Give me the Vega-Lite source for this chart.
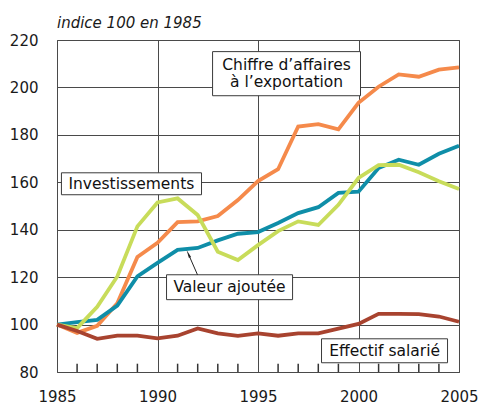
{
  "$schema": "https://vega.github.io/schema/vega-lite/v6.json",
  "width": 402,
  "height": 332,
  "autosize": "none",
  "padding": {"left": 57, "top": 40, "right": 23, "bottom": 32},
  "background": "white",
  "config": {
    "view": {"stroke": "#4a4a4a", "strokeWidth": 1},
    "font": "DejaVu Sans",
    "axis": {"labelFont": "DejaVu Sans", "labelFontSize": 15, "labelColor": "#1a1a1a"}
  },
  "title": {
    "text": "indice 100 en 1985",
    "anchor": "start",
    "frame": "group",
    "orient": "top",
    "offset": 2,
    "fontSize": 15,
    "fontStyle": "italic",
    "fontWeight": "normal",
    "font": "DejaVu Sans",
    "color": "#1a1a1a"
  },
  "datasets": {
    "series": [
      {"year": 1985, "serie": "export", "v": 100}, {"year": 1986, "serie": "export", "v": 96.5}, {"year": 1987, "serie": "export", "v": 99.5}, {"year": 1988, "serie": "export", "v": 109}, {"year": 1989, "serie": "export", "v": 128.5}, {"year": 1990, "serie": "export", "v": 134.5}, {"year": 1991, "serie": "export", "v": 143.2}, {"year": 1992, "serie": "export", "v": 143.5}, {"year": 1993, "serie": "export", "v": 145.8}, {"year": 1994, "serie": "export", "v": 152.5}, {"year": 1995, "serie": "export", "v": 160.5}, {"year": 1996, "serie": "export", "v": 165.5}, {"year": 1997, "serie": "export", "v": 183.5}, {"year": 1998, "serie": "export", "v": 184.5}, {"year": 1999, "serie": "export", "v": 182.3}, {"year": 2000, "serie": "export", "v": 193.5}, {"year": 2001, "serie": "export", "v": 200.3}, {"year": 2002, "serie": "export", "v": 205.5}, {"year": 2003, "serie": "export", "v": 204.5}, {"year": 2004, "serie": "export", "v": 207.5}, {"year": 2005, "serie": "export", "v": 208.5},
      {"year": 1985, "serie": "va", "v": 100}, {"year": 1986, "serie": "va", "v": 101}, {"year": 1987, "serie": "va", "v": 102}, {"year": 1988, "serie": "va", "v": 108}, {"year": 1989, "serie": "va", "v": 120.3}, {"year": 1990, "serie": "va", "v": 126}, {"year": 1991, "serie": "va", "v": 131.5}, {"year": 1992, "serie": "va", "v": 132.3}, {"year": 1993, "serie": "va", "v": 135.5}, {"year": 1994, "serie": "va", "v": 138.3}, {"year": 1995, "serie": "va", "v": 139}, {"year": 1996, "serie": "va", "v": 142.8}, {"year": 1997, "serie": "va", "v": 147}, {"year": 1998, "serie": "va", "v": 149.5}, {"year": 1999, "serie": "va", "v": 155.5}, {"year": 2000, "serie": "va", "v": 156}, {"year": 2001, "serie": "va", "v": 166}, {"year": 2002, "serie": "va", "v": 169.5}, {"year": 2003, "serie": "va", "v": 167.4}, {"year": 2004, "serie": "va", "v": 172}, {"year": 2005, "serie": "va", "v": 175.4},
      {"year": 1985, "serie": "invest", "v": 100}, {"year": 1986, "serie": "invest", "v": 98.5}, {"year": 1987, "serie": "invest", "v": 107.5}, {"year": 1988, "serie": "invest", "v": 120.3}, {"year": 1989, "serie": "invest", "v": 141.4}, {"year": 1990, "serie": "invest", "v": 151.5}, {"year": 1991, "serie": "invest", "v": 153.2}, {"year": 1992, "serie": "invest", "v": 146.2}, {"year": 1993, "serie": "invest", "v": 130.7}, {"year": 1994, "serie": "invest", "v": 127.2}, {"year": 1995, "serie": "invest", "v": 133.5}, {"year": 1996, "serie": "invest", "v": 139.4}, {"year": 1997, "serie": "invest", "v": 143.5}, {"year": 1998, "serie": "invest", "v": 142}, {"year": 1999, "serie": "invest", "v": 150.5}, {"year": 2000, "serie": "invest", "v": 161.8}, {"year": 2001, "serie": "invest", "v": 167.2}, {"year": 2002, "serie": "invest", "v": 167.4}, {"year": 2003, "serie": "invest", "v": 164.2}, {"year": 2004, "serie": "invest", "v": 160.4}, {"year": 2005, "serie": "invest", "v": 157.2},
      {"year": 1985, "serie": "effectif", "v": 100}, {"year": 1986, "serie": "effectif", "v": 97.3}, {"year": 1987, "serie": "effectif", "v": 94}, {"year": 1988, "serie": "effectif", "v": 95.3}, {"year": 1989, "serie": "effectif", "v": 95.3}, {"year": 1990, "serie": "effectif", "v": 94.2}, {"year": 1991, "serie": "effectif", "v": 95.3}, {"year": 1992, "serie": "effectif", "v": 98.4}, {"year": 1993, "serie": "effectif", "v": 96.3}, {"year": 1994, "serie": "effectif", "v": 95.2}, {"year": 1995, "serie": "effectif", "v": 96.3}, {"year": 1996, "serie": "effectif", "v": 95.3}, {"year": 1997, "serie": "effectif", "v": 96.3}, {"year": 1998, "serie": "effectif", "v": 96.3}, {"year": 1999, "serie": "effectif", "v": 98.3}, {"year": 2000, "serie": "effectif", "v": 100.3}, {"year": 2001, "serie": "effectif", "v": 104.5}, {"year": 2002, "serie": "effectif", "v": 104.5}, {"year": 2003, "serie": "effectif", "v": 104.4}, {"year": 2004, "serie": "effectif", "v": 103.4}, {"year": 2005, "serie": "effectif", "v": 101.2}
    ],
    "boxes": [
      {"id": "export", "x1": 1992.74, "x2": 2000.1, "y1": 196.5, "y2": 215.1},
      {"id": "invest", "x1": 1985.22, "x2": 1992.19, "y1": 154.75, "y2": 164.0},
      {"id": "va", "x1": 1990.45, "x2": 1996.72, "y1": 110.5, "y2": 121.0},
      {"id": "effectif", "x1": 1998.16, "x2": 2004.43, "y1": 83.9, "y2": 94.0}
    ],
    "labels": [
      {"t": "Chiffre d’affaires", "x": 1996.42, "y": 209.3},
      {"t": "à l’exportation", "x": 1996.42, "y": 202.2},
      {"t": "Investissements", "x": 1988.7, "y": 159.4},
      {"t": "Valeur ajoutée", "x": 1993.58, "y": 115.75},
      {"t": "Effectif salarié", "x": 2001.3, "y": 88.95}
    ],
    "arrow": [
      {"x1": 1991.99, "y1": 121.0, "x2": 1991.56, "y2": 129.3}
    ],
    "yearticks": [
      {"year": 1986, "lo": 80, "hi": 83.5}, {"year": 1987, "lo": 80, "hi": 83.5}, {"year": 1988, "lo": 80, "hi": 83.5}, {"year": 1989, "lo": 80, "hi": 83.5},
      {"year": 1991, "lo": 80, "hi": 83.5}, {"year": 1992, "lo": 80, "hi": 83.5}, {"year": 1993, "lo": 80, "hi": 83.5}, {"year": 1994, "lo": 80, "hi": 83.5},
      {"year": 1996, "lo": 80, "hi": 83.5}, {"year": 1997, "lo": 80, "hi": 83.5}, {"year": 1998, "lo": 80, "hi": 83.5}, {"year": 1999, "lo": 80, "hi": 83.5},
      {"year": 2001, "lo": 80, "hi": 83.5}, {"year": 2002, "lo": 80, "hi": 83.5}, {"year": 2003, "lo": 80, "hi": 83.5}, {"year": 2004, "lo": 80, "hi": 83.5}
    ]
  },
  "layer": [
    {
      "data": {"name": "series"},
      "mark": {"type": "line", "strokeWidth": 3.8, "strokeJoin": "miter", "strokeCap": "butt"},
      "encoding": {
        "x": {"field": "year", "type": "quantitative", "scale": {"domain": [1985, 2005], "nice": false, "zero": false},
          "axis": {"values": [1985, 1990, 1995, 2000, 2005], "format": "d", "title": null, "ticks": false, "domain": false, "labelPadding": 17,
            "grid": true, "gridColor": "#4a4a4a", "gridWidth": 1, "gridOpacity": 1, "labelFlush": false}},
        "y": {"field": "v", "type": "quantitative", "scale": {"domain": [80, 220], "nice": false, "zero": false},
          "axis": {"values": [80, 100, 120, 140, 160, 180, 200, 220], "title": null, "ticks": false, "domain": false, "labelPadding": 19,
            "grid": true, "gridColor": "#4a4a4a", "gridWidth": 1, "gridOpacity": 1, "labelFlush": false, "labelBaseline": "middle"}},
        "color": {"field": "serie", "type": "nominal", "legend": null,
          "scale": {"domain": ["effectif", "va", "export", "invest"], "range": ["#a8432f", "#0f8ea8", "#f58a4b", "#c8dc5a"]}},
        "order": {"field": "year"}
      }
    },
    {
      "data": {"name": "yearticks"},
      "mark": {"type": "rule", "color": "#333333", "strokeWidth": 1.5},
      "encoding": {
        "x": {"field": "year", "type": "quantitative"},
        "y": {"field": "lo", "type": "quantitative"},
        "y2": {"field": "hi"}
      }
    },
    {
      "data": {"name": "boxes"},
      "mark": {"type": "rect", "fill": "white", "stroke": "#3a3a3a", "strokeWidth": 1},
      "encoding": {
        "x": {"field": "x1", "type": "quantitative"},
        "x2": {"field": "x2"},
        "y": {"field": "y1", "type": "quantitative"},
        "y2": {"field": "y2"}
      }
    },
    {
      "data": {"name": "labels"},
      "mark": {"type": "text", "fontSize": 15.5, "font": "DejaVu Sans", "color": "#111111", "align": "center", "baseline": "middle"},
      "encoding": {
        "x": {"field": "x", "type": "quantitative"},
        "y": {"field": "y", "type": "quantitative"},
        "text": {"field": "t"}
      }
    },
    {
      "data": {"name": "arrow"},
      "mark": {"type": "rule", "color": "#222222", "strokeWidth": 1},
      "encoding": {
        "x": {"field": "x1", "type": "quantitative"},
        "y": {"field": "y1", "type": "quantitative"},
        "x2": {"field": "x2"},
        "y2": {"field": "y2"}
      }
    },
    {
      "data": {"name": "arrow"},
      "mark": {"type": "point", "shape": "wedge", "filled": true, "color": "#222222", "size": 90, "angle": 335, "opacity": 1},
      "encoding": {
        "x": {"field": "x2", "type": "quantitative"},
        "y": {"field": "y2", "type": "quantitative"}
      }
    }
  ]
}
